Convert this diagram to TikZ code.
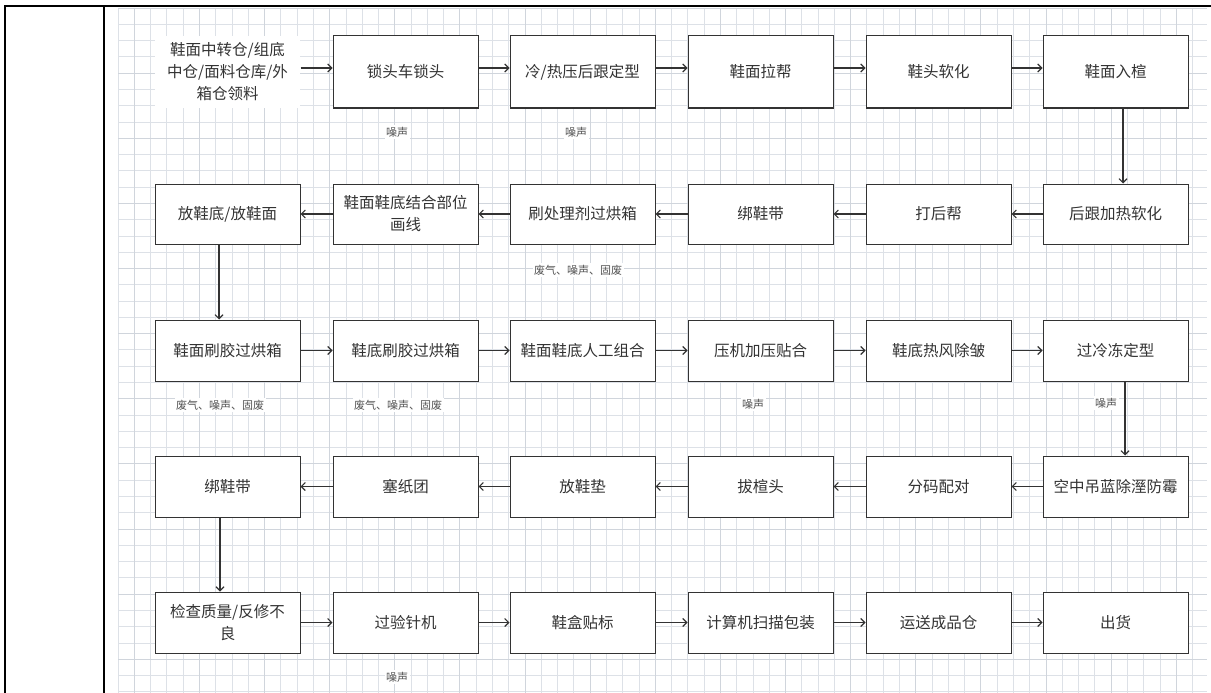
\documentclass[tikz,border=0pt]{standalone}
\usepackage{fontspec}
\setmainfont{Noto Sans CJK SC}
\usetikzlibrary{arrows.meta}
\definecolor{gridminor}{HTML}{DDE1E7}
\definecolor{gridmajor}{HTML}{D0D5DC}
\definecolor{ink}{HTML}{333333}
\begin{document}
\begin{tikzpicture}[x=1pt,y=-1pt,
  box/.style={draw=ink,line width=1pt,fill=white,minimum width=145pt,inner sep=0pt,align=center,font=\fontsize{15.5}{22}\selectfont,text=ink},
  plain/.style={box,draw=none},
  arr/.style={draw=ink,line width=1.1pt,-{Straight Barb[length=4pt,width=8pt]}},
  note/.style={font=\fontsize{11}{12}\selectfont,text=ink!85,inner sep=1.5pt,fill=white}]
\useasboundingbox (0,0) rectangle (1211,693);
\fill[white] (0,0) rectangle (1211,693);
% grid
\begin{scope}
\clip (118,8) rectangle (1207,693);
\foreach \i in {0,...,67} { \draw[gridminor,line width=0.8pt] ({118+16.28*\i},8) -- ({118+16.28*\i},693); }
\foreach \j in {0,...,42} { \draw[gridminor,line width=0.8pt] (118,{8+16.28*\j}) -- (1207,{8+16.28*\j}); }
\foreach \i in {1,5,...,65} { \draw[gridmajor,line width=0.8pt] ({118+16.28*\i},8) -- ({118+16.28*\i},693); }
\foreach \j in {0,4,...,42} { \draw[gridmajor,line width=0.8pt] (118,{8+16.28*\j}) -- (1207,{8+16.28*\j}); }
\end{scope}
% frame
\draw[black,line width=1.5pt] (4,6) -- (1211,6);
\draw[black,line width=2.5pt] (5,5.3) -- (5,693);
\draw[black,line width=1.3pt] (104,6) -- (104,693);
% row 1
\node[plain,minimum height=72pt] (a1) at (227.5,72) {鞋面中转仓/组底\\中仓/面料仓库/外\\箱仓领料};
\node[box,minimum height=72pt] (a2) at (405.5,72) {锁头车锁头};
\node[box,minimum height=72pt] (a3) at (582.5,72) {冷/热压后跟定型};
\node[box,minimum height=72pt] (a4) at (760.5,72) {鞋面拉帮};
\node[box,minimum height=72pt] (a5) at (938.5,72) {鞋头软化};
\node[box,minimum height=72pt] (a6) at (1115.5,72) {鞋面入楦};
% row 2
\node[box,minimum height=60pt] (b1) at (227.5,214) {放鞋底/放鞋面};
\node[box,minimum height=60pt] (b2) at (405.5,214) {鞋面鞋底结合部位\\画线};
\node[box,minimum height=60pt] (b3) at (582.5,214) {刷处理剂过烘箱};
\node[box,minimum height=60pt] (b4) at (760.5,214) {绑鞋带};
\node[box,minimum height=60pt] (b5) at (938.5,214) {打后帮};
\node[box,minimum height=60pt] (b6) at (1115.5,214) {后跟加热软化};
% row 3
\node[box,minimum height=61pt] (c1) at (227.5,350.5) {鞋面刷胶过烘箱};
\node[box,minimum height=61pt] (c2) at (405.5,350.5) {鞋底刷胶过烘箱};
\node[box,minimum height=61pt] (c3) at (582.5,350.5) {鞋面鞋底人工组合};
\node[box,minimum height=61pt] (c4) at (760.5,350.5) {压机加压贴合};
\node[box,minimum height=61pt] (c5) at (938.5,350.5) {鞋底热风除皱};
\node[box,minimum height=61pt] (c6) at (1115.5,350.5) {过冷冻定型};
% row 4
\node[box,minimum height=61pt] (d1) at (227.5,486.5) {绑鞋带};
\node[box,minimum height=61pt] (d2) at (405.5,486.5) {塞纸团};
\node[box,minimum height=61pt] (d3) at (582.5,486.5) {放鞋垫};
\node[box,minimum height=61pt] (d4) at (760.5,486.5) {拔楦头};
\node[box,minimum height=61pt] (d5) at (938.5,486.5) {分码配对};
\node[box,minimum height=61pt] (d6) at (1115.5,486.5) {空中吊蓝除溼防霉};
% row 5
\node[box,minimum height=61pt] (e1) at (227.5,622.5) {检查质量/反修不\\良};
\node[box,minimum height=61pt] (e2) at (405.5,622.5) {过验针机};
\node[box,minimum height=61pt] (e3) at (582.5,622.5) {鞋盒贴标};
\node[box,minimum height=61pt] (e4) at (760.5,622.5) {计算机扫描包装};
\node[box,minimum height=61pt] (e5) at (938.5,622.5) {运送成品仓};
\node[box,minimum height=61pt] (e6) at (1115.5,622.5) {出货};
% row 1 arrows
\foreach \p/\q in {a1/a2,a2/a3,a3/a4,a4/a5,a5/a6}
  \draw[arr] ([yshift=4pt]\p.east) -- ([yshift=4pt]\q.west);
% row 2 arrows (right to left)
\foreach \p/\q in {b6/b5,b5/b4,b4/b3,b3/b2,b2/b1}
  \draw[arr] (\p.west) -- (\q.east);
% row 3 arrows
\foreach \p/\q in {c1/c2,c2/c3,c3/c4,c4/c5,c5/c6}
  \draw[arr] (\p.east) -- (\q.west);
% row 4 arrows (right to left)
\foreach \p/\q in {d6/d5,d5/d4,d4/d3,d3/d2,d2/d1}
  \draw[arr] (\p.west) -- (\q.east);
% row 5 arrows
\foreach \p/\q in {e1/e2,e2/e3,e3/e4,e4/e5,e5/e6}
  \draw[arr] (\p.east) -- (\q.west);
% vertical arrows
\draw[arr] ([xshift=7.5pt]a6.south) -- ([xshift=7.5pt]b6.north);
\draw[arr] ([xshift=-8.5pt]b1.south) -- ([xshift=-8.5pt]c1.north);
\draw[arr] ([xshift=9.5pt]c6.south) -- ([xshift=9.5pt]d6.north);
\draw[arr] ([xshift=-7.5pt]d1.south) -- ([xshift=-7.5pt]e1.north);
% notes
\node[note] (n1) at (397,132) {噪声};
\node[note] (n2) at (576,132) {噪声};
\node[note] (n3) at (578,270) {废气、噪声、固废};
\node[note] (n4) at (220,405) {废气、噪声、固废};
\node[note] (n5) at (398,405) {废气、噪声、固废};
\node[note] (n6) at (753,404) {噪声};
\node[note] (n7) at (1106,403) {噪声};
\node[note] (n8) at (397,677) {噪声};
\end{tikzpicture}
\end{document}
